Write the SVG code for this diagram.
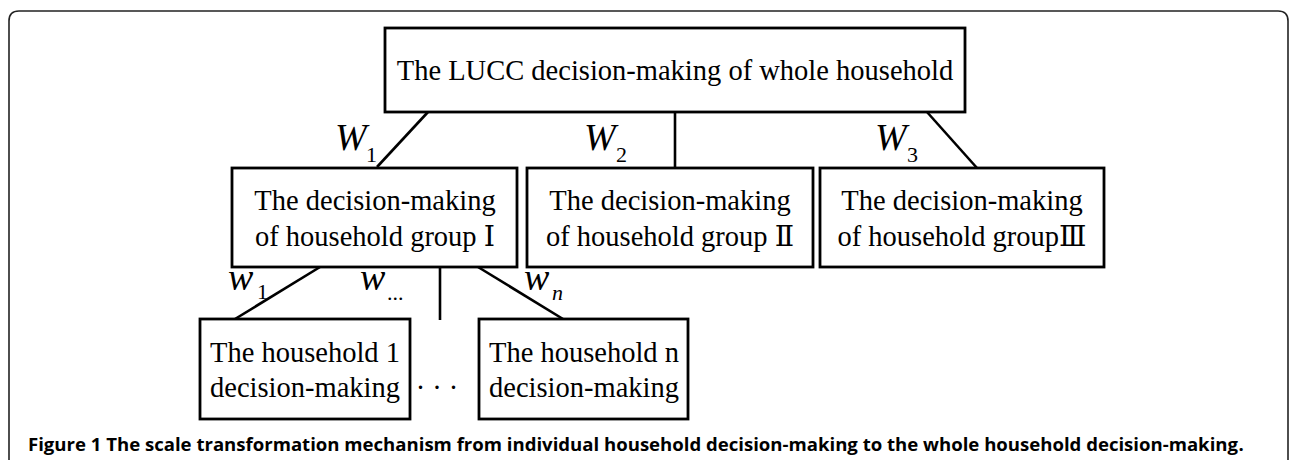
<svg xmlns="http://www.w3.org/2000/svg" width="1292" height="460" viewBox="0 0 1292 460">
<style>
.box{fill:#fff;stroke:#000;stroke-width:2.8}
.ln{stroke:#000;stroke-width:2.6;fill:none}
.t{font-family:"Liberation Serif","DejaVu Serif",serif;font-size:28.5px;fill:#000;text-anchor:middle}
.W{font-family:"Liberation Serif",serif;font-style:italic;font-size:38px;fill:#000}
.sub{font-family:"Liberation Serif",serif;font-size:22px;fill:#000}
.cap{font-family:"Open Sans","Noto Sans",sans-serif;font-size:18.5px;font-weight:bold;fill:#000}
</style>
<rect width="1292" height="460" fill="#fff"/>
<path d="M9,460 V21 Q9,11 19,11 H1278 Q1288,11 1288,21 V460" fill="none" stroke="#222" stroke-width="1.6"/>
<g id="connectors">
<line class="ln" x1="428" y1="112" x2="377" y2="167"/>
<line class="ln" x1="675" y1="112" x2="675" y2="167"/>
<line class="ln" x1="927" y1="112" x2="977" y2="168"/>
<line class="ln" x1="320" y1="267" x2="235" y2="319"/>
<line class="ln" x1="440" y1="267" x2="440" y2="320"/>
<line class="ln" x1="478" y1="267" x2="563" y2="319"/>
</g>
<g id="labels">
<text class="W" x="335" y="150">W</text><text class="sub" x="366" y="162">1</text>
<text class="W" x="584" y="150">W</text><text class="sub" x="616" y="162">2</text>
<text class="W" x="875" y="150">W</text><text class="sub" x="907" y="162">3</text>
<text class="W" x="228" y="290">w</text><text class="sub" x="257" y="299">1</text>
<text class="W" x="360" y="290">w</text><text class="sub" x="387" y="300">...</text>
<text class="W" x="524" y="290">w</text><text class="sub" x="552" y="300" font-style="italic">n</text>
</g>
<g id="top">
<rect class="box" x="385" y="28" width="580" height="84"/>
<text class="t" x="675" y="80">The LUCC decision-making of whole household</text>
</g>
<g id="group1">
<rect class="box" x="232" y="168" width="285" height="99"/>
<text class="t" x="375" y="210">The decision-making</text>
<text class="t" x="375" y="246">of household group Ⅰ</text>
</g>
<g id="group2">
<rect class="box" x="527" y="168" width="286" height="99"/>
<text class="t" x="670" y="210">The decision-making</text>
<text class="t" x="670" y="246">of household group Ⅱ</text>
</g>
<g id="group3">
<rect class="box" x="820" y="168" width="284" height="99"/>
<text class="t" x="962" y="210">The decision-making</text>
<text class="t" x="962" y="246">of household groupⅢ</text>
</g>
<g id="household1">
<rect class="box" x="200" y="319" width="210" height="100"/>
<text class="t" x="305" y="362">The household 1</text>
<text class="t" x="305" y="397">decision-making</text>
</g>
<g id="dots">
<text class="t" x="437" y="397">· · ·</text>
</g>
<g id="householdn">
<rect class="box" x="479" y="319" width="209" height="100"/>
<text class="t" x="584" y="362">The household n</text>
<text class="t" x="584" y="397">decision-making</text>
</g>
<g id="caption">
<text class="cap" x="28" y="451" textLength="1210" lengthAdjust="spacingAndGlyphs">Figure 1 The scale transformation mechanism from individual household decision-making to the whole household decision-making</text>
<text class="cap" x="1238.5" y="451" font-weight="normal">.</text>
</g>
</svg>
